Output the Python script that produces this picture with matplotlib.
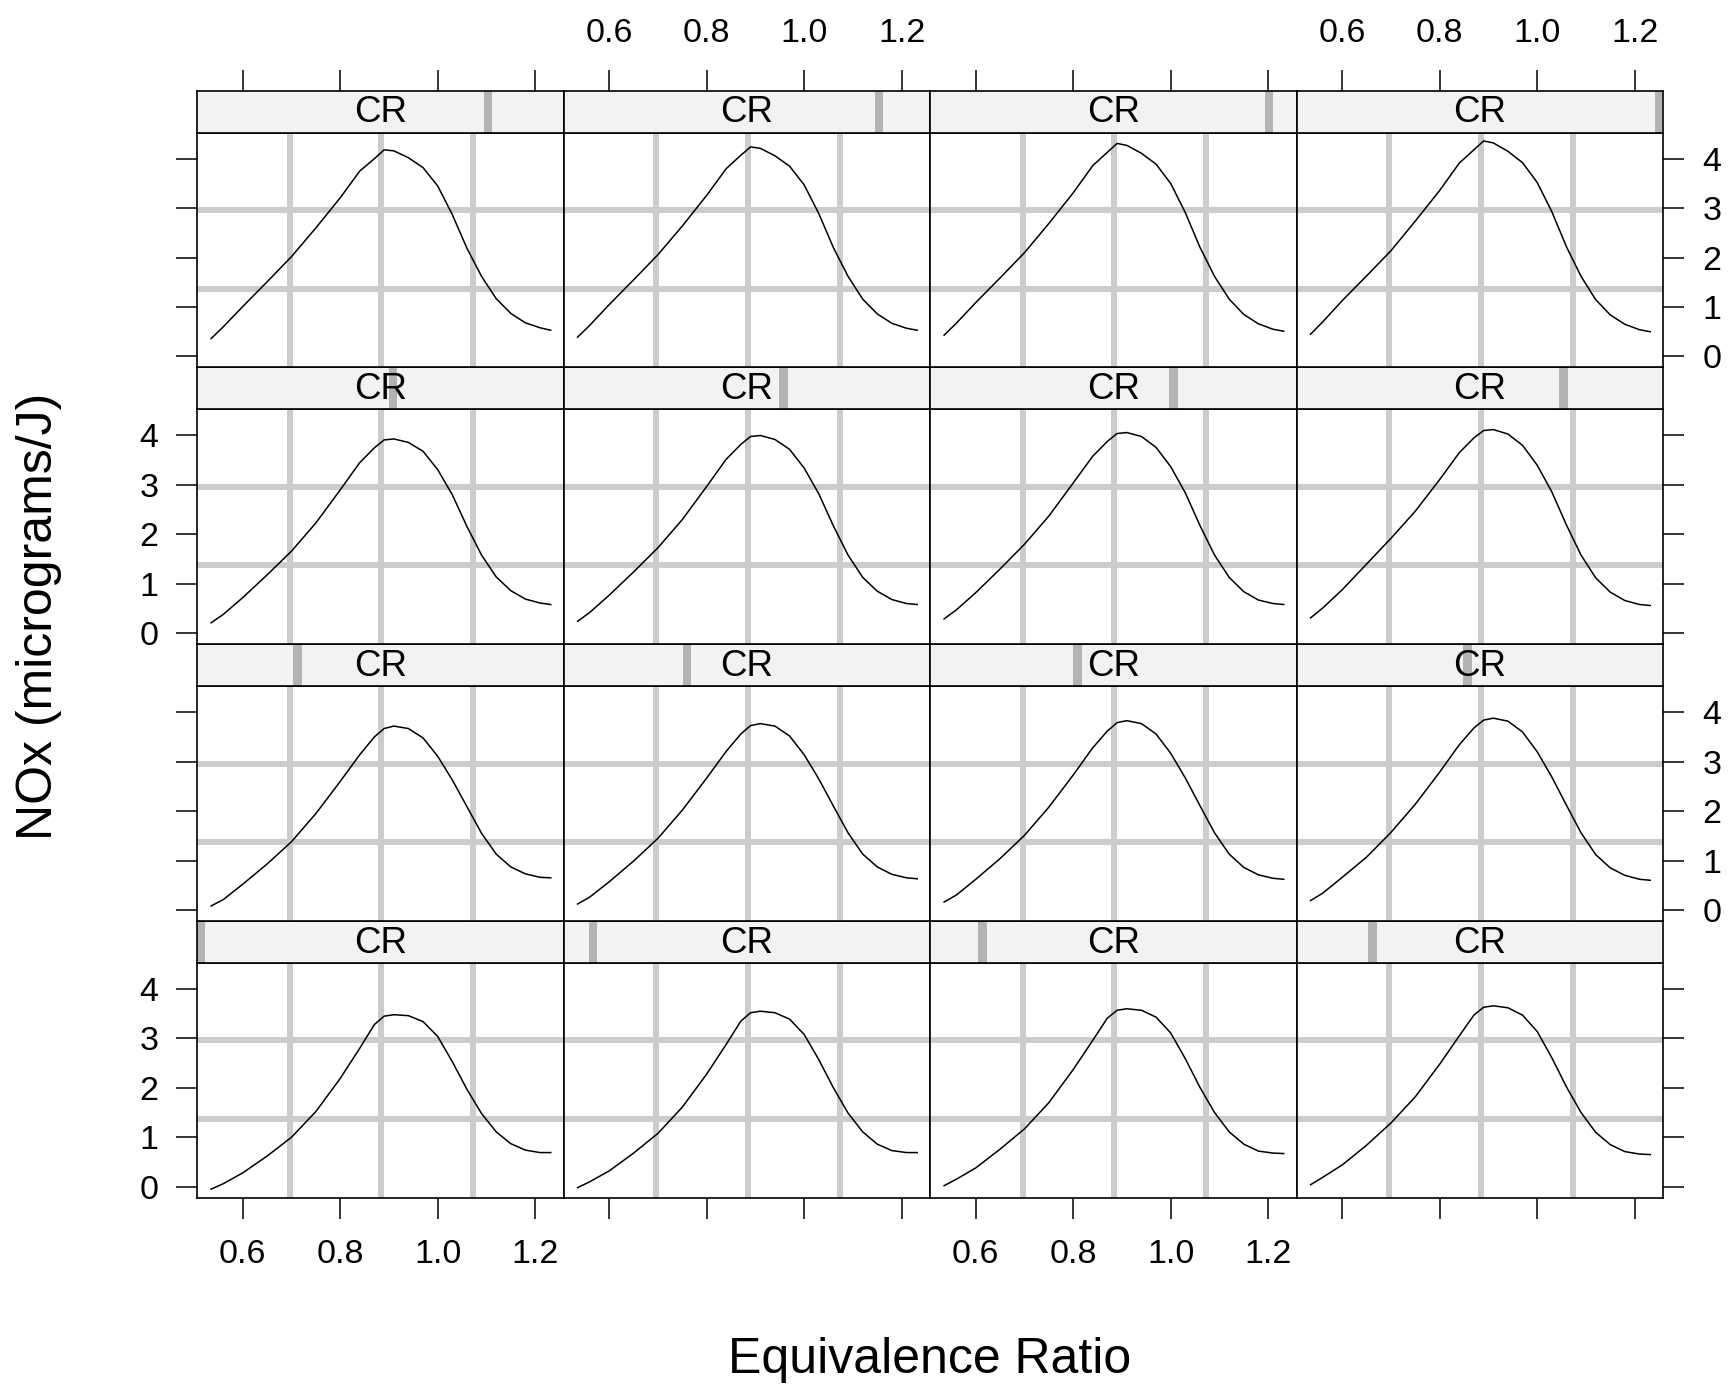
import matplotlib
matplotlib.use('Agg')
import matplotlib.pyplot as plt

plt.rcParams['font.family'] = ['Liberation Sans', 'DejaVu Sans']

# ---------------- data ----------------
equiv_ratio = [0.535, 0.56, 0.60, 0.65, 0.70, 0.75, 0.80, 0.84, 0.87, 0.89, 0.91,
               0.94, 0.97, 1.00, 1.03, 1.06, 1.09, 1.12, 1.15, 1.18, 1.21, 1.232]

nox_p01 = [-0.05, 0.06, 0.28, 0.62, 1.00, 1.52, 2.19, 2.80, 3.28, 3.45, 3.48, 3.46, 3.34, 3.04, 2.53, 1.97, 1.48, 1.11, 0.87, 0.74, 0.69, 0.69]
nox_p02 = [-0.02, 0.10, 0.32, 0.68, 1.08, 1.61, 2.28, 2.88, 3.35, 3.52, 3.55, 3.52, 3.39, 3.08, 2.57, 2.00, 1.49, 1.11, 0.86, 0.73, 0.69, 0.69]
nox_p03 = [0.02, 0.15, 0.38, 0.76, 1.17, 1.70, 2.37, 2.96, 3.41, 3.57, 3.60, 3.57, 3.43, 3.11, 2.59, 2.01, 1.50, 1.11, 0.86, 0.72, 0.68, 0.67]
nox_p04 = [0.04, 0.19, 0.44, 0.84, 1.29, 1.82, 2.48, 3.05, 3.47, 3.63, 3.66, 3.62, 3.47, 3.14, 2.61, 2.02, 1.50, 1.10, 0.85, 0.71, 0.66, 0.65]
nox_p05 = [0.08, 0.21, 0.52, 0.93, 1.38, 1.95, 2.60, 3.14, 3.50, 3.67, 3.72, 3.67, 3.48, 3.11, 2.63, 2.09, 1.55, 1.13, 0.87, 0.73, 0.66, 0.65]
nox_p06 = [0.12, 0.26, 0.57, 0.99, 1.45, 2.02, 2.67, 3.21, 3.56, 3.73, 3.77, 3.72, 3.52, 3.14, 2.65, 2.10, 1.56, 1.13, 0.87, 0.72, 0.65, 0.63]
nox_p07 = [0.16, 0.30, 0.62, 1.04, 1.51, 2.08, 2.73, 3.28, 3.62, 3.79, 3.83, 3.77, 3.56, 3.17, 2.67, 2.11, 1.56, 1.13, 0.86, 0.71, 0.64, 0.62]
nox_p08 = [0.19, 0.34, 0.66, 1.07, 1.57, 2.14, 2.79, 3.34, 3.68, 3.84, 3.88, 3.82, 3.60, 3.20, 2.69, 2.12, 1.56, 1.12, 0.85, 0.70, 0.62, 0.60]
nox_p09 = [0.21, 0.38, 0.72, 1.18, 1.66, 2.23, 2.90, 3.45, 3.75, 3.91, 3.93, 3.86, 3.68, 3.31, 2.80, 2.16, 1.58, 1.14, 0.86, 0.69, 0.61, 0.58]
nox_p10 = [0.24, 0.42, 0.77, 1.24, 1.73, 2.30, 2.97, 3.52, 3.82, 3.98, 4.00, 3.92, 3.72, 3.34, 2.82, 2.17, 1.58, 1.13, 0.85, 0.68, 0.60, 0.58]
nox_p11 = [0.29, 0.47, 0.82, 1.30, 1.80, 2.37, 3.04, 3.58, 3.88, 4.04, 4.06, 3.98, 3.76, 3.37, 2.84, 2.18, 1.58, 1.13, 0.84, 0.67, 0.60, 0.58]
nox_p12 = [0.31, 0.51, 0.88, 1.40, 1.92, 2.47, 3.11, 3.65, 3.95, 4.10, 4.12, 4.03, 3.80, 3.40, 2.86, 2.19, 1.58, 1.12, 0.83, 0.66, 0.58, 0.56]
nox_p13 = [0.36, 0.60, 1.01, 1.51, 2.02, 2.60, 3.21, 3.75, 4.00, 4.18, 4.16, 4.02, 3.82, 3.45, 2.87, 2.19, 1.62, 1.17, 0.87, 0.68, 0.58, 0.53]
nox_p14 = [0.39, 0.63, 1.05, 1.55, 2.06, 2.64, 3.26, 3.80, 4.07, 4.24, 4.21, 4.06, 3.85, 3.47, 2.89, 2.20, 1.62, 1.16, 0.86, 0.67, 0.57, 0.53]
nox_p15 = [0.43, 0.67, 1.09, 1.59, 2.10, 2.69, 3.31, 3.86, 4.13, 4.31, 4.27, 4.11, 3.89, 3.50, 2.91, 2.21, 1.62, 1.16, 0.85, 0.66, 0.55, 0.51]
nox_p16 = [0.45, 0.70, 1.13, 1.63, 2.14, 2.74, 3.36, 3.91, 4.18, 4.36, 4.32, 4.15, 3.92, 3.52, 2.93, 2.22, 1.62, 1.15, 0.84, 0.65, 0.54, 0.50]

nox_panels = [nox_p01, nox_p02, nox_p03, nox_p04, nox_p05, nox_p06, nox_p07, nox_p08,
              nox_p09, nox_p10, nox_p11, nox_p12, nox_p13, nox_p14, nox_p15, nox_p16]

# shingle intervals of compression ratio (panel order: bottom-left first, row-wise)
cr_lo = [7.50, 8.21, 8.88, 9.55, 10.24, 10.91, 11.58, 12.27, 12.98, 13.67, 14.35, 15.02, 15.72, 16.43, 17.09, 17.77]
cr_hi = [7.73, 8.45, 9.13, 9.79, 10.49, 11.15, 11.84, 12.53, 13.23, 13.92, 14.59, 15.26, 15.95, 16.64, 17.32, 17.97]
cr_range = (7.5, 18.0)

ref_x = [0.696, 0.884, 1.073]
ref_y = [1.37, 2.96]

x_ticks = [0.6, 0.8, 1.0, 1.2]
x_ticklabels = ['0.6', '0.8', '1.0', '1.2']
y_ticks = [0, 1, 2, 3, 4]
y_ticklabels = ['0', '1', '2', '3', '4']

# ---------------- layout ----------------
W, H = 1733, 1390
fig = plt.figure(figsize=(W / 100, H / 100), dpi=100)

XLIM = (0.5067, 1.2588)
YLIM = (-0.223, 4.527)
PX0, PW = 197.3, 366.5
ST0, RH, SH = 90.7, 276.75, 42.0

TICK_LEN, TICK_W = 15, 1.1
LAB_SIZE = 24.5
GRID_C = '#cccccc'


def rect(x0, y_top, w, h):
    return [x0 / W, 1 - (y_top + h) / H, w / W, h / H]


for idx in range(16):
    row_b = idx // 4
    col = idx % 4
    row_t = 3 - row_b
    x0 = PX0 + col * PW
    st = ST0 + row_t * RH
    pt = st + SH
    ph = RH - SH

    ax = fig.add_axes(rect(x0, pt, PW, ph))
    ax.set_xlim(*XLIM)
    ax.set_ylim(*YLIM)
    for gx in ref_x:
        ax.axvline(gx, color=GRID_C, lw=4.3, zorder=1)
    for gy in ref_y:
        ax.axhline(gy, color=GRID_C, lw=4.3, zorder=1)
    ax.plot(equiv_ratio, nox_panels[idx], color='black', lw=1.1, zorder=3)
    for s in ax.spines.values():
        s.set_linewidth(1.2)
        s.set_zorder(4)

    ax.set_xticks(x_ticks)
    ax.set_xticklabels(x_ticklabels)
    ax.set_yticks(y_ticks)
    ax.set_yticklabels(y_ticklabels)
    ax.tick_params(direction='out', length=TICK_LEN, width=TICK_W, labelsize=LAB_SIZE,
                   bottom=False, top=False, left=False, right=False,
                   labelbottom=False, labeltop=False, labelleft=False, labelright=False)
    ax.tick_params(axis='x', pad=15)
    ax.tick_params(axis='y', pad=13)
    if row_t == 3:
        ax.tick_params(axis='x', bottom=True, labelbottom=(col in (0, 2)))
    if col == 0:
        ax.tick_params(axis='y', left=True, labelleft=(row_t in (1, 3)))
    if col == 3:
        ax.tick_params(axis='y', right=True, labelright=(row_t in (0, 2)))

    # strip
    sax = fig.add_axes(rect(x0, st, PW, SH))
    sax.set_facecolor('#f2f2f2')
    sax.set_xlim(*cr_range)
    sax.set_ylim(0, 1)
    sax.axvspan(cr_lo[idx], cr_hi[idx], color='#b3b3b3', lw=0, zorder=1)
    sax.text(0.5, 0.47, 'CR', transform=sax.transAxes, ha='center', va='center',
             fontsize=26.4, zorder=3)
    sax.set_xticks([])
    sax.set_yticks([])
    for s in sax.spines.values():
        s.set_linewidth(1.2)
        s.set_zorder(4)

    if row_t == 0:
        tax = fig.add_axes(rect(x0, st, PW, SH))
        tax.patch.set_visible(False)
        for s in tax.spines.values():
            s.set_visible(False)
        tax.set_xlim(*XLIM)
        tax.set_xticks(x_ticks)
        tax.set_xticklabels(x_ticklabels)
        tax.set_yticks([])
        tax.tick_params(axis='x', direction='out', length=TICK_LEN, width=TICK_W,
                        labelsize=LAB_SIZE, pad=15, bottom=False, labelbottom=False,
                        top=True, labeltop=(col in (1, 3)))

fig.text(930 / W, 1 - 1360 / H, 'Equivalence Ratio', ha='center', va='center', fontsize=36)
fig.text(39 / W, 1 - 616 / H, 'NOx (micrograms/J)', ha='center', va='center',
         rotation=90, fontsize=36)

fig.savefig('out.png', dpi=100, facecolor='white')
